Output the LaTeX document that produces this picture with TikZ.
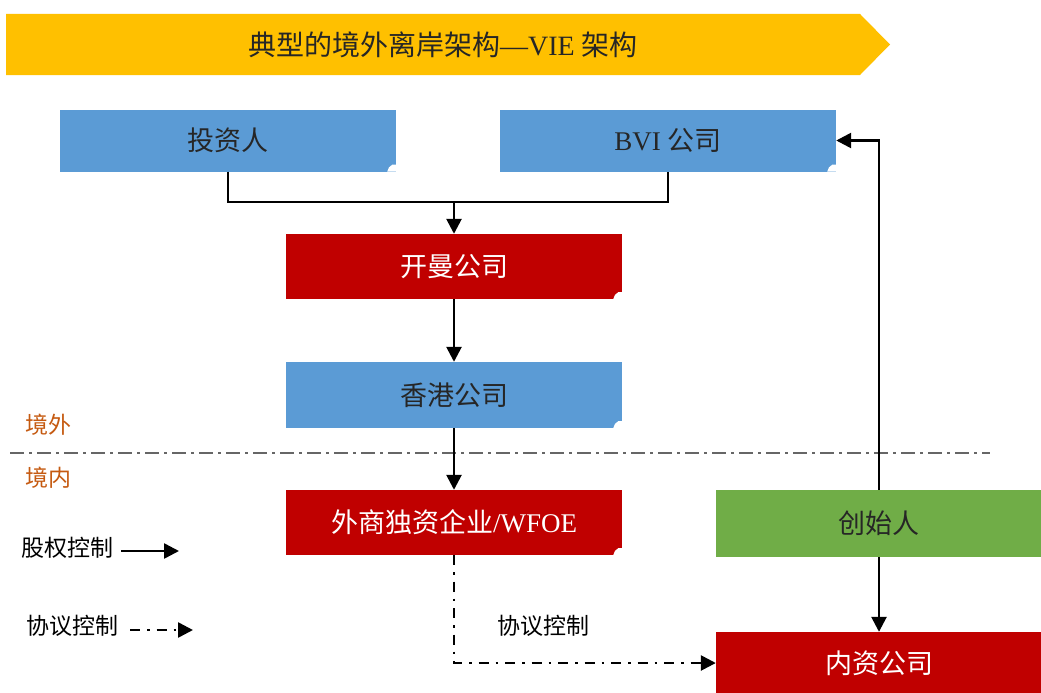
\documentclass[tikz,border=0pt]{standalone}
\usepackage{fontspec}
\setmainfont{Liberation Serif}
\newfontfamily\cjk{Noto Sans CJK SC}
\usetikzlibrary{arrows.meta,calc}
\definecolor{bannercol}{HTML}{FFC000}
\definecolor{bluefill}{HTML}{5B9BD5}
\definecolor{redfill}{HTML}{C00000}
\definecolor{greenfill}{HTML}{70AD47}
\definecolor{orangetxt}{HTML}{C55A11}
\definecolor{darktxt}{HTML}{262626}
\tikzset{
  boxbase/.style={rectangle, inner sep=0pt, font=\fontsize{27}{30}\selectfont},
  bluebox/.style={boxbase, fill=bluefill, text=darktxt, minimum width=336pt, minimum height=62pt},
  redbox/.style={boxbase, fill=redfill, text=white, minimum width=336pt, minimum height=65pt},
  greenbox/.style={boxbase, fill=greenfill, text=darktxt, minimum width=326pt, minimum height=67pt},
  conn/.style={line width=2.6pt, -{Triangle[width=15pt,length=15pt]}},
  plainline/.style={line width=2.6pt},
  agreement/.style={line width=2.6pt, dash pattern=on 10pt off 7pt on 2.5pt off 7pt, -{Triangle[width=15pt,length=15pt]}},
  sepline/.style={line width=1.5pt, gray!80!black, dash pattern=on 14pt off 5pt on 3pt off 5pt},
  lbl/.style={font=\cjk\fontsize{23}{26}\selectfont, inner sep=0pt},
}
\newcommand{\notch}[1]{\fill[white] (#1.south east) -- ++(-9pt,0pt) to[out=70,in=200] ++(5pt,7pt) -- ++(4pt,0pt) -- cycle;}
\begin{document}
\begin{tikzpicture}[x=1pt,y=-1pt]
\useasboundingbox (0,0) rectangle (1041,693);
% banner
\fill[bannercol] (6,14) -- (860,14) -- (890,44.5) -- (860,75) -- (6,75) -- cycle;
\node[inner sep=0pt, font=\fontsize{28}{31}\selectfont, text=darktxt] (title) at (443,45) {{\cjk 典型的境外离岸架构}—VIE {\cjk 架构}};
% boxes
\node[bluebox] (inv) at (228,140.5) {\cjk 投资人};
\node[bluebox] (bvi) at (668,140.5) {BVI {\cjk 公司}};
\node[redbox] (cay) at (454,266.5) {\cjk 开曼公司};
\node[bluebox, minimum height=66pt] (hk) at (454,395) {\cjk 香港公司};
\node[redbox] (wfoe) at (454,522.5) {{\cjk 外商独资企业}/WFOE};
\node[greenbox] (fnd) at (879,523.5) {\cjk 创始人};
\node[redbox, minimum width=326pt, minimum height=62pt] (dom) at (879,663) {\cjk 内资公司};
\notch{inv}\notch{bvi}\notch{cay}\notch{hk}\notch{wfoe}
% separator
\coordinate (sepL) at (10,453);
\coordinate (sepR) at (990,453);
\draw[sepline] (sepL) -- (sepR);
\node[lbl, text=orangetxt, anchor=west] (out) at (25,425) {境外};
\node[lbl, text=orangetxt, anchor=west] (in) at (25,478) {境内};
% connectors
\coordinate (join) at (454,202);
\draw[plainline] (inv.south) |- (join) -| (bvi.south);
\draw[conn] (join) -- (cay.north);
\draw[conn] (cay.south) -- (hk.north);
\draw[conn] (hk.south) -- (wfoe.north);
\draw[conn] (fnd.south) -- (dom.north);
\draw[conn] (fnd.north) |- (bvi.east);
\draw[agreement] (wfoe.south) |- (dom.west);
\node[lbl, text=black, anchor=west] (agr) at (497,626) {协议控制};
% legend
\node[lbl, text=black, anchor=west] (leg1) at (21,548) {股权控制};
\coordinate (l1a) at (121,551);
\coordinate (l1b) at (179,551);
\draw[conn] (l1a) -- (l1b);
\node[lbl, text=black, anchor=west] (leg2) at (26,626) {协议控制};
\coordinate (l2a) at (130,630);
\coordinate (l2b) at (193,630);
\draw[agreement] (l2a) -- (l2b);
\end{tikzpicture}
\end{document}
